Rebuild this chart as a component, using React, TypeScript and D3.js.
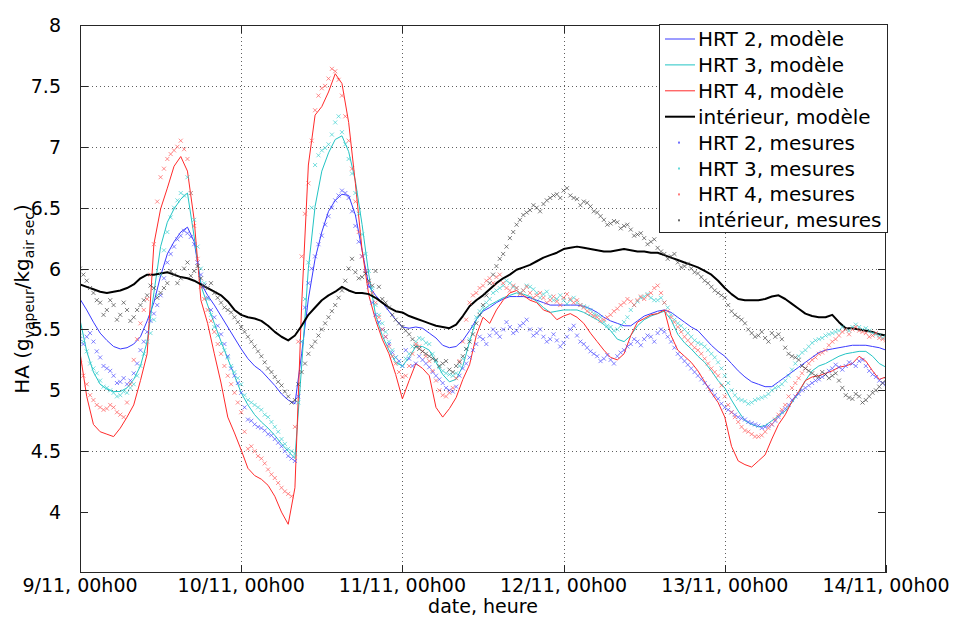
import * as d3 from "d3";
import React from "react";

const W = 957;
const H = 617;
const left = 80;
const right = 886;
const top = 25;
const bottom = 573;

const dayLabels = ["9/11, 00h00", "10/11, 00h00", "11/11, 00h00", "12/11, 00h00", "13/11, 00h00", "14/11, 00h00"];
const yTicks = [4, 4.5, 5, 5.5, 6, 6.5, 7, 7.5, 8];

// model: hourly samples from 9/11 00h00 to 14/11 00h00 (121 values each)
const hrt2Model = [
  5.75, 5.66, 5.56, 5.47, 5.41, 5.36, 5.34, 5.35, 5.38, 5.44, 5.57, 5.72, 5.94, 6.12, 6.22, 6.30, 6.34, 6.22, 5.88, 5.78,
  5.70, 5.61, 5.52, 5.43, 5.34, 5.26, 5.20, 5.16, 5.10, 5.04, 4.97, 4.92, 4.89, 5.30, 5.75, 6.08, 6.30, 6.47, 6.56, 6.61,
  6.60, 6.44, 6.15, 5.86, 5.78, 5.72, 5.65, 5.58, 5.52, 5.51, 5.52, 5.51, 5.47, 5.43, 5.37, 5.35, 5.36, 5.41, 5.49, 5.58,
  5.65, 5.68, 5.72, 5.75, 5.77, 5.77, 5.77, 5.76, 5.74, 5.72, 5.70, 5.70, 5.70, 5.70, 5.70, 5.69, 5.67, 5.64, 5.60, 5.57,
  5.55, 5.53, 5.53, 5.57, 5.61, 5.63, 5.65, 5.66, 5.64, 5.60, 5.56, 5.52, 5.49, 5.43, 5.37, 5.32, 5.28, 5.22, 5.16, 5.11,
  5.07, 5.05, 5.03, 5.03, 5.07, 5.11, 5.15, 5.19, 5.23, 5.27, 5.31, 5.33, 5.34, 5.35, 5.36, 5.37, 5.37, 5.37, 5.36, 5.35,
  5.33,
];
const hrt3Model = [
  5.58, 5.32, 5.15, 5.05, 5.01, 4.99, 4.99, 5.02, 5.09, 5.20, 5.40, 5.80, 6.18, 6.38, 6.49, 6.57, 6.62, 6.26, 5.86, 5.70,
  5.55, 5.40, 5.26, 5.12, 4.98, 4.88, 4.80, 4.74, 4.69, 4.63, 4.56, 4.50, 4.44, 5.20, 6.00, 6.51, 6.80, 6.95, 7.06, 7.09,
  6.96, 6.72, 6.36, 5.95, 5.62, 5.45, 5.33, 5.23, 5.20, 5.27, 5.36, 5.36, 5.33, 5.23, 5.13, 5.07, 5.09, 5.20, 5.40, 5.58,
  5.66, 5.70, 5.73, 5.76, 5.78, 5.80, 5.79, 5.77, 5.73, 5.68, 5.64, 5.65, 5.66, 5.66, 5.66, 5.64, 5.61, 5.58, 5.54, 5.49,
  5.42, 5.40, 5.45, 5.53, 5.58, 5.61, 5.63, 5.65, 5.58, 5.46, 5.39, 5.34, 5.28, 5.23, 5.16, 5.08, 5.02, 4.92, 4.83, 4.75,
  4.72, 4.70, 4.71, 4.75, 4.79, 4.83, 4.90, 4.98, 5.08, 5.16, 5.20, 5.22, 5.25, 5.28, 5.30, 5.31, 5.32, 5.32, 5.28, 5.22,
  5.19,
];
const hrt4Model = [
  5.31, 4.95, 4.72, 4.66, 4.64, 4.62, 4.69, 4.78, 4.88, 5.08, 5.30, 6.20, 6.49, 6.66, 6.84, 6.92, 6.80, 6.40, 5.74, 5.55,
  5.30, 5.06, 4.78, 4.65, 4.51, 4.36, 4.30, 4.27, 4.22, 4.13, 4.00, 3.90, 4.20, 5.70, 6.85, 7.26, 7.33, 7.45, 7.60, 7.52,
  7.20, 6.70, 6.15, 5.78, 5.58, 5.42, 5.30, 5.13, 4.93, 5.08, 5.22, 5.18, 5.12, 4.86, 4.78, 4.85, 4.94, 5.09, 5.21, 5.45,
  5.60, 5.55, 5.66, 5.74, 5.80, 5.82, 5.78, 5.74, 5.72, 5.66, 5.64, 5.58, 5.61, 5.63, 5.60, 5.55, 5.47, 5.40, 5.33, 5.27,
  5.25, 5.30, 5.45, 5.56, 5.59, 5.62, 5.63, 5.66, 5.45, 5.33, 5.28, 5.23, 5.16, 5.07, 4.98, 4.90, 4.78, 4.54, 4.42, 4.39,
  4.37, 4.42, 4.47, 4.60, 4.72, 4.80, 4.91, 4.99, 5.08, 5.11, 5.12, 5.14, 5.16, 5.19, 5.20, 5.22, 5.28, 5.24, 5.16, 5.09,
  5.11,
];
const interieurModel = [
  5.87, 5.85, 5.83, 5.81, 5.80, 5.81, 5.82, 5.84, 5.87, 5.92, 5.95, 5.95, 5.96, 5.97, 5.95, 5.93, 5.92, 5.90, 5.87, 5.84,
  5.81, 5.78, 5.73, 5.66, 5.62, 5.60, 5.59, 5.57, 5.53, 5.48, 5.44, 5.41, 5.45, 5.53, 5.62, 5.68, 5.74, 5.78, 5.81, 5.85,
  5.82, 5.80, 5.80, 5.79, 5.76, 5.72, 5.68, 5.65, 5.64, 5.61, 5.59, 5.57, 5.55, 5.53, 5.52, 5.51, 5.54, 5.61, 5.69, 5.74,
  5.78, 5.83, 5.88, 5.92, 5.95, 5.99, 6.01, 6.03, 6.06, 6.09, 6.11, 6.13, 6.16, 6.17, 6.18, 6.17, 6.16, 6.15, 6.14, 6.14,
  6.15, 6.16, 6.15, 6.14, 6.14, 6.13, 6.13, 6.11, 6.09, 6.07, 6.05, 6.03, 6.01, 5.98, 5.95, 5.90, 5.84, 5.79, 5.75, 5.74,
  5.74, 5.74, 5.75, 5.77, 5.78, 5.75, 5.71, 5.67, 5.63, 5.61, 5.60, 5.60, 5.62, 5.56, 5.51, 5.51, 5.50, 5.49, 5.48, 5.46,
  5.45,
];

// measurements on the hour (121 values) and at half past (120 values)
const hrt2Mes = [
  5.42, 5.44, 5.40, 5.27, 5.18, 5.12, 5.07, 5.05, 5.14, 5.33, 5.48, 5.63, 5.78, 6.05, 6.18, 6.27, 6.29, 6.20, 5.95, 5.76,
  5.60, 5.46, 5.28, 5.12, 4.98, 4.76, 4.72, 4.69, 4.64, 4.60, 4.54, 4.46, 4.42, 5.40, 5.88, 6.10, 6.27, 6.43, 6.56, 6.64,
  6.58, 6.35, 6.10, 5.85, 5.62, 5.50, 5.38, 5.27, 5.20, 5.26, 5.22, 5.25, 5.19, 5.12, 5.06, 5.00, 5.03, 5.18, 5.27, 5.38,
  5.42, 5.45, 5.47, 5.50, 5.52, 5.49, 5.55, 5.50, 5.47, 5.44, 5.42, 5.41, 5.39, 5.50, 5.45, 5.38, 5.32, 5.28, 5.26, 5.25,
  5.28, 5.33, 5.38, 5.40, 5.42, 5.44, 5.47, 5.48, 5.40, 5.30, 5.24, 5.18, 5.12, 5.06, 5.00, 4.93, 4.86, 4.82, 4.78, 4.76,
  4.73, 4.71, 4.70, 4.72, 4.78, 4.85, 4.92, 4.97, 5.02, 5.06, 5.09, 5.13, 5.18, 5.19, 5.20, 5.22, 5.24, 5.20, 5.13, 5.08,
  5.05,
];
const hrt2MesHalf = [
  5.38, 5.47, 5.32, 5.20, 5.16, 5.06, 5.10, 5.08, 5.22, 5.40, 5.57, 5.70, 5.92, 6.12, 6.24, 6.31, 6.26, 6.05, 5.86, 5.66,
  5.53, 5.38, 5.18, 5.06, 4.86, 4.75, 4.70, 4.67, 4.63, 4.57, 4.50, 4.44, 4.95, 5.68, 6.00, 6.20, 6.36, 6.50, 6.60, 6.62,
  6.47, 6.22, 5.98, 5.72, 5.56, 5.44, 5.31, 5.24, 5.33, 5.20, 5.28, 5.22, 5.15, 5.09, 5.02, 4.99, 5.12, 5.22, 5.33, 5.44,
  5.38, 5.50, 5.44, 5.56, 5.47, 5.53, 5.58, 5.45, 5.50, 5.40, 5.46, 5.36, 5.44, 5.53, 5.40, 5.35, 5.30, 5.24, 5.29, 5.22,
  5.31, 5.36, 5.42, 5.37, 5.45, 5.40, 5.50, 5.44, 5.35, 5.27, 5.21, 5.15, 5.09, 5.03, 4.96, 4.89, 4.84, 4.80, 4.77, 4.74,
  4.72, 4.69, 4.71, 4.75, 4.82, 4.88, 4.95, 5.00, 5.04, 5.08, 5.11, 5.16, 5.21, 5.17, 5.23, 5.20, 5.25, 5.16, 5.11, 5.06,
];
const hrt3Mes = [
  5.45, 5.32, 5.18, 5.08, 5.02, 4.98, 4.96, 4.98, 5.05, 5.20, 5.40, 5.58, 5.95, 6.30, 6.50, 6.62, 6.75, 6.40, 6.00, 5.75,
  5.52, 5.38, 5.27, 5.15, 5.05, 4.92, 4.88, 4.84, 4.78, 4.70, 4.60, 4.52, 4.48, 5.40, 6.05, 6.85, 6.97, 7.02, 7.20, 7.12,
  6.90, 6.62, 6.28, 5.98, 5.70, 5.55, 5.40, 5.27, 5.20, 5.30, 5.40, 5.42, 5.38, 5.24, 5.16, 5.13, 5.14, 5.26, 5.42, 5.60,
  5.68, 5.75, 5.82, 5.86, 5.88, 5.84, 5.82, 5.85, 5.80, 5.79, 5.77, 5.75, 5.74, 5.74, 5.72, 5.69, 5.66, 5.62, 5.56, 5.52,
  5.50, 5.56, 5.66, 5.73, 5.77, 5.76, 5.74, 5.72, 5.62, 5.55, 5.50, 5.44, 5.39, 5.36, 5.30, 5.23, 5.12, 5.00, 4.93, 4.91,
  4.90, 4.93, 4.95, 5.00, 5.03, 5.08, 5.17, 5.28, 5.33, 5.39, 5.42, 5.45, 5.47, 5.49, 5.50, 5.52, 5.52, 5.51, 5.47, 5.45,
  5.44,
];
const hrt3MesHalf = [
  5.40, 5.22, 5.14, 5.03, 5.00, 4.95, 4.99, 5.02, 5.12, 5.30, 5.47, 5.78, 6.15, 6.42, 6.56, 6.60, 6.62, 6.18, 5.88, 5.62,
  5.45, 5.33, 5.20, 5.10, 4.96, 4.90, 4.86, 4.80, 4.74, 4.66, 4.56, 4.50, 4.90, 5.75, 6.50, 6.93, 6.99, 7.10, 7.25, 7.02,
  6.78, 6.45, 6.12, 5.84, 5.62, 5.48, 5.33, 5.22, 5.26, 5.36, 5.43, 5.39, 5.30, 5.19, 5.14, 5.12, 5.20, 5.34, 5.52, 5.65,
  5.72, 5.80, 5.84, 5.90, 5.85, 5.80, 5.86, 5.83, 5.76, 5.81, 5.74, 5.78, 5.71, 5.76, 5.70, 5.68, 5.63, 5.60, 5.53, 5.49,
  5.53, 5.60, 5.70, 5.76, 5.79, 5.74, 5.76, 5.68, 5.58, 5.53, 5.47, 5.41, 5.38, 5.33, 5.27, 5.18, 5.06, 4.96, 4.92, 4.89,
  4.92, 4.94, 4.97, 5.02, 5.05, 5.12, 5.22, 5.31, 5.36, 5.41, 5.43, 5.46, 5.48, 5.52, 5.49, 5.54, 5.50, 5.49, 5.46, 5.43,
];
const hrt4Mes = [
  5.22, 5.05, 4.92, 4.86, 4.85, 4.86, 4.80, 4.90, 5.25, 5.55, 5.75, 6.20, 6.75, 6.90, 6.97, 7.05, 6.90, 6.35, 5.85, 5.66,
  5.48, 5.30, 5.12, 4.98, 4.82, 4.52, 4.50, 4.44, 4.35, 4.28, 4.20, 4.15, 4.70, 6.10, 6.70, 7.30, 7.48, 7.56, 7.62, 7.42,
  7.05, 6.55, 6.10, 5.88, 5.72, 5.50, 5.36, 5.22, 5.11, 5.20, 5.38, 5.32, 5.24, 5.08, 4.96, 4.98, 5.10, 5.40, 5.72, 5.80,
  5.86, 5.92, 5.93, 5.88, 5.82, 5.84, 5.82, 5.80, 5.78, 5.76, 5.74, 5.73, 5.76, 5.75, 5.74, 5.68, 5.63, 5.60, 5.58, 5.62,
  5.67, 5.72, 5.73, 5.74, 5.75, 5.80, 5.86, 5.72, 5.60, 5.52, 5.44, 5.38, 5.33, 5.26, 5.18, 5.12, 4.95, 4.82, 4.74, 4.67,
  4.64, 4.62, 4.66, 4.72, 4.80, 4.88, 5.02, 5.10, 5.18, 5.25, 5.30, 5.33, 5.40, 5.45, 5.50, 5.50, 5.49, 5.47, 5.45, 5.43,
  5.41,
];
const hrt4MesHalf = [
  5.12, 4.96, 4.88, 4.84, 4.88, 4.82, 4.78, 5.05, 5.42, 5.66, 5.95, 6.55, 6.82, 6.94, 7.00, 6.98, 6.62, 6.08, 5.75, 5.57,
  5.38, 5.20, 5.05, 4.90, 4.66, 4.54, 4.46, 4.40, 4.31, 4.24, 4.17, 4.13, 5.40, 6.45, 7.05, 7.42, 7.50, 7.64, 7.55, 7.25,
  6.82, 6.30, 5.98, 5.80, 5.60, 5.44, 5.28, 5.15, 5.12, 5.30, 5.36, 5.28, 5.16, 5.00, 4.95, 5.02, 5.24, 5.58, 5.78, 5.84,
  5.90, 5.88, 5.95, 5.84, 5.86, 5.79, 5.85, 5.76, 5.80, 5.72, 5.77, 5.70, 5.79, 5.72, 5.70, 5.65, 5.61, 5.57, 5.60, 5.65,
  5.70, 5.75, 5.70, 5.77, 5.78, 5.84, 5.80, 5.65, 5.56, 5.48, 5.41, 5.35, 5.30, 5.22, 5.15, 5.04, 4.88, 4.78, 4.70, 4.66,
  4.62, 4.63, 4.69, 4.76, 4.84, 4.95, 5.06, 5.14, 5.22, 5.27, 5.31, 5.37, 5.42, 5.48, 5.46, 5.52, 5.48, 5.44, 5.47, 5.42,
];
const interieurMes = [
  6.00, 5.90, 5.80, 5.72, 5.66, 5.70, 5.62, 5.66, 5.60, 5.70, 5.78, 5.84, 5.80, 5.88, 5.95, 5.92, 6.05, 5.98, 5.92, 5.84,
  5.80, 5.72, 5.66, 5.60, 5.52, 5.44, 5.36, 5.28, 5.18, 5.11, 5.04, 4.95, 4.92, 5.15, 5.30, 5.40, 5.50, 5.60, 5.70, 5.82,
  6.00, 5.97, 5.93, 5.90, 5.98, 5.75, 5.68, 5.58, 5.52, 5.46, 5.36, 5.32, 5.28, 5.25, 5.22, 5.17, 5.20, 5.28, 5.40, 5.55,
  5.70, 5.88, 6.02, 6.12, 6.25, 6.36, 6.44, 6.48, 6.50, 6.53, 6.58, 6.61, 6.64, 6.60, 6.57, 6.55, 6.51, 6.46, 6.40, 6.37,
  6.38, 6.35, 6.32, 6.28, 6.25, 6.22, 6.17, 6.12, 6.10, 6.05, 6.02, 6.00, 5.96, 5.90, 5.85, 5.80, 5.76, 5.65, 5.60, 5.55,
  5.47, 5.45, 5.43, 5.47, 5.46, 5.35, 5.28, 5.25, 5.18, 5.14, 5.11, 5.13, 5.12, 5.08, 4.96, 4.93, 4.95, 4.92, 4.98, 5.03,
  5.09,
];
const interieurMesHalf = [
  5.95, 5.84, 5.74, 5.62, 5.74, 5.58, 5.72, 5.57, 5.66, 5.74, 5.86, 5.76, 5.84, 5.98, 5.88, 6.00, 5.94, 6.02, 5.86, 5.88,
  5.76, 5.68, 5.64, 5.56, 5.48, 5.40, 5.32, 5.23, 5.15, 5.07, 4.99, 4.90, 5.05, 5.22, 5.36, 5.45, 5.55, 5.65, 5.76, 5.90,
  6.08, 5.92, 5.96, 5.86, 5.85, 5.72, 5.62, 5.55, 5.49, 5.42, 5.34, 5.30, 5.26, 5.20, 5.24, 5.15, 5.23, 5.34, 5.46, 5.62,
  5.78, 5.95, 6.08, 6.18, 6.30, 6.40, 6.46, 6.52, 6.47, 6.56, 6.60, 6.58, 6.66, 6.58, 6.52, 6.54, 6.47, 6.43, 6.36, 6.39,
  6.33, 6.36, 6.27, 6.29, 6.20, 6.24, 6.14, 6.08, 6.12, 6.01, 6.04, 5.97, 5.93, 5.88, 5.82, 5.78, 5.70, 5.62, 5.58, 5.50,
  5.44, 5.48, 5.40, 5.44, 5.42, 5.30, 5.27, 5.20, 5.16, 5.12, 5.15, 5.10, 5.14, 5.02, 4.94, 4.97, 4.90, 4.95, 5.00, 5.06,
];

const models = [
  { name: "HRT 2, modèle", values: hrt2Model, color: "#3a3aff", width: 1 },
  { name: "HRT 3, modèle", values: hrt3Model, color: "#22c4c4", width: 1 },
  { name: "HRT 4, modèle", values: hrt4Model, color: "#ff2a2a", width: 1 },
  { name: "intérieur, modèle", values: interieurModel, color: "#000000", width: 2 },
];
const mesures = [
  { name: "HRT 2, mesures", values: hrt2Mes, half: hrt2MesHalf, color: "#4d4dff" },
  { name: "HRT 3, mesures", values: hrt3Mes, half: hrt3MesHalf, color: "#3cd0d0" },
  { name: "HRT 4, mesures", values: hrt4Mes, half: hrt4MesHalf, color: "#ff5a5a" },
  { name: "intérieur, mesures", values: interieurMes, half: interieurMesHalf, color: "#444444" },
];

const FONT = "'DejaVu Sans', Verdana, sans-serif";

export default function App() {
  const x = d3.scaleLinear().domain([0, 120]).range([left, right]);
  const y = d3.scaleLinear().domain([3.5, 8]).range([bottom, top]);
  const line = d3.line<number>().x((_, i) => x(i)).y((d) => y(d));
  const dayTicks = dayLabels.map((_, i) => i * 24);

  // small "x" markers, like matlab's '.'-ish scatter of the sensors
  const crosses = (vals: number[], offset: number) =>
    vals
      .map((v, i) => {
        const cx = x(i + offset);
        const cy = y(v);
        return `M${cx - 2},${cy - 2}L${cx + 2},${cy + 2}M${cx - 2},${cy + 2}L${cx + 2},${cy - 2}`;
      })
      .join("");

  const legendItems = [...models, ...mesures];
  const lgX = 659;
  const lgY = 25;
  const rowH = 25.9;

  return (
    <svg
      width={W}
      height={H}
      style={{ position: "absolute", left: 0, top: 0, background: "#fff" }}
      fontFamily={FONT}
    >
      <rect x={0} y={0} width={W} height={H} fill="#fff" />

      {/* grid */}
      <g stroke="#444" strokeWidth={1} strokeDasharray="1 3" opacity={0.85}>
        {dayTicks.slice(1, -1).map((t) => (
          <line key={"gx" + t} x1={Math.round(x(t)) + 0.5} x2={Math.round(x(t)) + 0.5} y1={top} y2={bottom} />
        ))}
        {yTicks.slice(1, -1).map((v) => (
          <line key={"gy" + v} x1={left} x2={right} y1={Math.round(y(v)) + 0.5} y2={Math.round(y(v)) + 0.5} />
        ))}
      </g>

      <defs>
        <clipPath id="plotArea">
          <rect x={left} y={top} width={right - left} height={bottom - top} />
        </clipPath>
      </defs>

      <g clipPath="url(#plotArea)">
        {models.map((m) => (
          <path key={m.name} d={line(m.values) ?? ""} fill="none" stroke={m.color} strokeWidth={m.width} strokeLinejoin="round" />
        ))}
        {mesures.map((m) => (
          <path
            key={m.name}
            d={crosses(m.values, 0) + crosses(m.half, 0.5)}
            fill="none"
            stroke={m.color}
            strokeWidth={1}
            opacity={0.7}
          />
        ))}
      </g>

      {/* axes box and ticks */}
      <rect x={left + 0.5} y={top + 0.5} width={right - left - 1} height={bottom - top - 1} fill="none" stroke="#262626" strokeWidth={1} />
      <g stroke="#262626" strokeWidth={1}>
        {yTicks.map((v) => (
          <g key={"ty" + v}>
            <line x1={left} x2={left + 8} y1={Math.round(y(v)) + 0.5} y2={Math.round(y(v)) + 0.5} />
            <line x1={right - 8} x2={right} y1={Math.round(y(v)) + 0.5} y2={Math.round(y(v)) + 0.5} />
          </g>
        ))}
        {dayTicks.map((t) => (
          <g key={"tx" + t}>
            <line x1={Math.round(x(t)) + 0.5} x2={Math.round(x(t)) + 0.5} y1={bottom} y2={bottom - 8} />
            <line x1={Math.round(x(t)) + 0.5} x2={Math.round(x(t)) + 0.5} y1={top} y2={top + 8} />
          </g>
        ))}
      </g>

      {/* tick labels */}
      <g fontSize={19} fill="#000">
        {yTicks.map((v) => (
          <text key={"ly" + v} x={left - 19} y={y(v) + 7} textAnchor="end">
            {String(v)}
          </text>
        ))}
        {dayTicks.map((t, i) => (
          <text key={"lx" + t} x={x(t)} y={592} textAnchor="middle">
            {dayLabels[i]}
          </text>
        ))}
        <text x={(left + right) / 2} y={613} textAnchor="middle">
          date, heure
        </text>
        <text transform={`translate(29,${(top + bottom) / 2}) rotate(-90)`} textAnchor="middle" fontSize={20}>
          HA (g
          <tspan fontSize={14} dy={5}>vapeur</tspan>
          <tspan dy={-5}>/kg</tspan>
          <tspan fontSize={14} dy={5}>air sec</tspan>
          <tspan dy={-5}>)</tspan>
        </text>
      </g>

      {/* legend */}
      <g>
        <rect x={lgX + 0.5} y={lgY - 0.5} width={228} height={208} fill="#fff" stroke="#262626" strokeWidth={1} />
        {legendItems.map((item, i) => {
          const cy = lgY + 14 + i * rowH;
          const isLine = i < models.length;
          return (
            <g key={"lg" + item.name}>
              {isLine ? (
                <line x1={665} x2={695} y1={cy} y2={cy} stroke={(item as any).color} strokeWidth={(item as any).width} />
              ) : (
                <rect x={678} y={cy - 1} width={2} height={2} fill={item.color} opacity={0.8} />
              )}
              <text x={698} y={cy + 7} fontSize={20} fill="#000">
                {item.name}
              </text>
            </g>
          );
        })}
      </g>
    </svg>
  );
}
